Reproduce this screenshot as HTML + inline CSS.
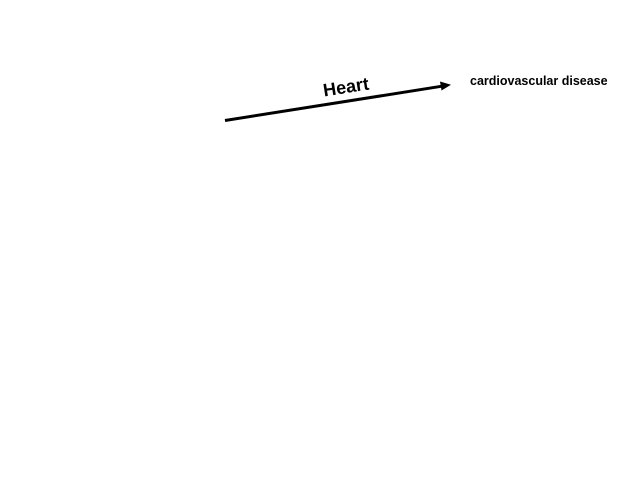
<!DOCTYPE html>
<html><head><meta charset="utf-8"><style>html,body{margin:0;padding:0;background:#fff;width:640px;height:480px;overflow:hidden}</style></head>
<body>
<svg width="640" height="480" xmlns="http://www.w3.org/2000/svg">
<line x1="225" y1="120.5" x2="442" y2="86.2" stroke="#000" stroke-width="3"/>
<polygon points="451,84.8 440,81.5 441.5,90.5" fill="#000"/>
<text x="346" y="93" font-family="Liberation Sans, sans-serif" font-weight="bold" font-size="18" text-anchor="middle" transform="rotate(-8.8 346 87)">Heart</text>
<text x="470" y="85" font-family="Liberation Sans, sans-serif" font-weight="bold" font-size="12.5">cardiovascular disease</text>
</svg>
</body></html>
